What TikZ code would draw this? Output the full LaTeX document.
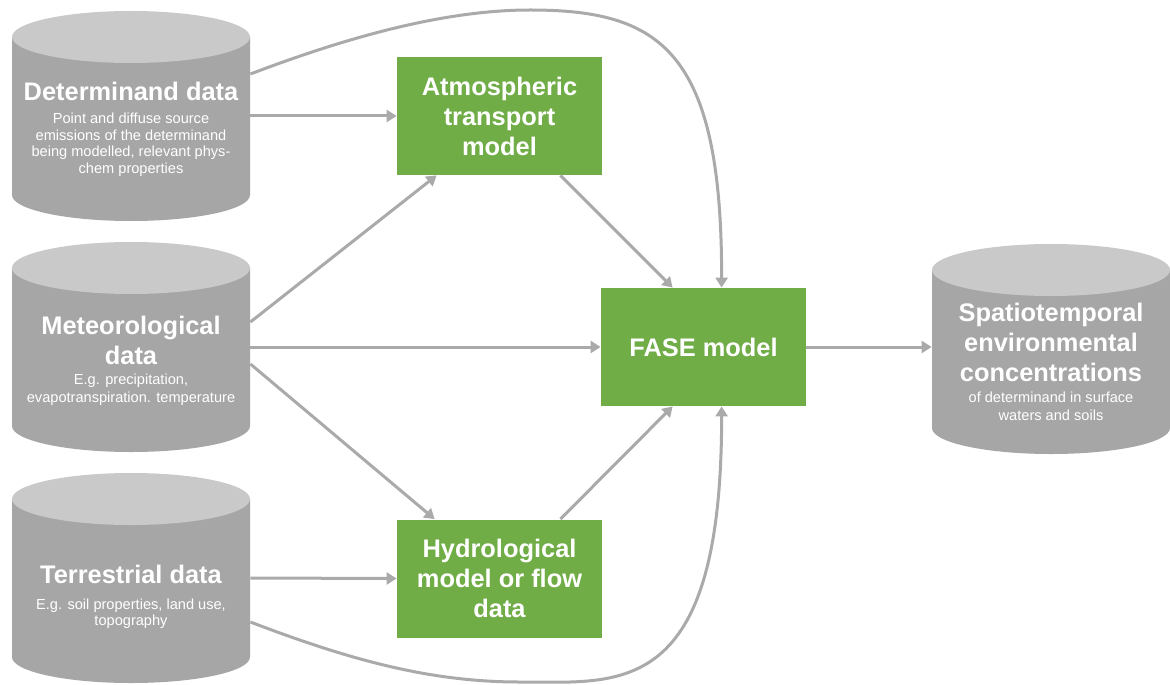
\documentclass[tikz,border=0pt]{standalone}
\usepackage{fontspec}
\setmainfont{Liberation Sans}
\usetikzlibrary{arrows.meta,calc}

\definecolor{cylbody}{RGB}{166,166,166}
\definecolor{cyltop}{RGB}{201,201,201}
\definecolor{flowgray}{RGB}{170,170,170}
\definecolor{modelgreen}{RGB}{112,173,71}

\newcommand{\dbtitle}{\fontsize{12.7}{15}\bfseries\selectfont}
\newcommand{\dbsub}{\fontsize{7.3}{8.4}\mdseries\selectfont}

\tikzset{
  database/.style={minimum width=119pt, minimum height=105pt, inner sep=0pt,
    path picture={
      \fill[cylbody] ([yshift=-13pt]path picture bounding box.north west)
        -- ([yshift=13pt]path picture bounding box.south west)
        arc[start angle=180, end angle=360, x radius=59.5pt, y radius=13pt]
        -- ([yshift=-13pt]path picture bounding box.north east) -- cycle;
      \fill[cyltop] ([yshift=-13pt]path picture bounding box.north)
        ellipse[x radius=59.5pt, y radius=13pt];
    }},
  dbtext/.style={text=white, align=center, inner sep=0pt, font=\dbtitle},
  model/.style={fill=modelgreen, text=white, align=center, inner sep=0pt,
    minimum width=102.5pt, minimum height=59pt,
    font=\fontsize{12.7}{15}\bfseries\selectfont},
  flow/.style={draw=flowgray, line width=1.5pt, -{Triangle[length=5pt,width=6pt]}}
}

\begin{document}
\begin{tikzpicture}[x=0.5pt,y=-0.5pt]
  \useasboundingbox (0,0) rectangle (1170,684);
  \fill[white] (0,0) rectangle (1170,684);

  % data stores
  \node[database] (det) at (131,116) {};
  \node[database] (met) at (131,347) {};
  \node[database] (terr) at (131,578) {};
  \node[database] (out) at (1051,349) {};

  \node[dbtext] (dettxt) at (131,129.5) {Determinand data\\[-3.6pt]
    \dbsub Point and diffuse source\\[-6.6pt]\dbsub emissions of the determinand\\[-6.6pt]
    \dbsub being modelled,  relevant phys-\\[-6.6pt]\dbsub chem properties};
  \node[dbtext] (mettxt) at (131,361) {Meteorological\\data\\[-5pt]
    \dbsub E.g. precipitation,\\[-6pt]\dbsub evapotranspiration. temperature};
  \node[dbtext] (terrtxt) at (131,596.5) {Terrestrial data\\[-2pt]
    \dbsub E.g. soil properties, land use,\\[-7pt]\dbsub topography};
  \node[dbtext] (outtxt) at (1051,362) {Spatiotemporal\\environmental\\concentrations\\[-4.75pt]
    \dbsub of determinand  in surface\\[-6pt]\dbsub waters and soils};

  % models
  \node[model] (atm) at (499.5,116) {Atmospheric\\transport\\model};
  \node[model] (hydro) at (499.5,578.5) {Hydrological\\model or flow\\data};
  \node[model] (fase) at (703.5,347) {FASE model};

  \coordinate (detpeak) at (530,10);
  \coordinate (terrlow) at (520,682);

  % connectors
  \draw[flow] (det.east) -- (atm.west);
  \draw[flow] ($(det.east)+(0,-42)$) .. controls (340,40) and (440,10) .. (detpeak)
    .. controls (660,10) and (722,50) .. ($(fase.north west)+(121,0)$);
  \draw[flow] ($(met.east)+(0,-25)$) -- ($(atm.south west)+(40,0)$);
  \draw[flow] (met.east) -- (fase.west);
  \draw[flow] ($(met.east)+(0,17)$) -- ($(hydro.north west)+(38,0)$);
  \draw[flow] (terr.east) -- (hydro.west);
  \draw[flow] ($(terr.east)+(0,44)$) .. controls (350,660) and (430,682) .. (terrlow)
    .. controls (620,682) and (722,700) .. ($(fase.south west)+(121,0)$);
  \draw[flow] ($(atm.south east)+(-42,0)$) -- ($(fase.north west)+(72,0)$);
  \draw[flow] ($(hydro.north east)+(-42,0)$) -- ($(fase.south west)+(72,0)$);
  \draw[flow] (fase.east) -- (out.west |- fase.east);
\end{tikzpicture}
\end{document}
